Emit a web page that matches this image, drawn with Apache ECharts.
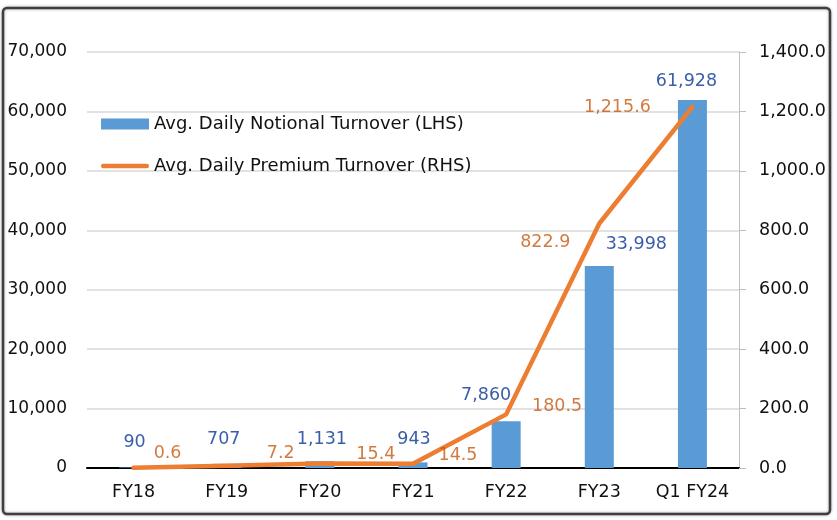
<!DOCTYPE html>
<html>
<head>
<meta charset="utf-8">
<script src="https://cdn.jsdelivr.net/npm/echarts@6/dist/echarts.min.js"></script>
<style>
  html, body { margin: 0; padding: 0; background: #fff; }
  #main { width: 837px; height: 520px; }
</style>
</head>
<body>
<div id="main"></div>
<script>
var categories = ['FY18', 'FY19', 'FY20', 'FY21', 'FY22', 'FY23', 'Q1 FY24'];
var notionalTurnover = [90, 707, 1131, 943, 7860, 33998, 61928];      // LHS
var premiumTurnover = [0.6, 7.2, 15.4, 14.5, 180.5, 822.9, 1215.6];   // RHS
var leftTicks = { min: 0, max: 70000, interval: 10000 };
var rightTicks = { min: 0, max: 1400, interval: 200 };

// label nudges (pixels), like the hand-placed labels of the original
var barLabelShift = [[1, -16], [-3, -15], [2, -13], [1, -14], [-20, -17], [37, -13], [-6, -10]];
var lineLabelShift = [[34, -14], [54, -12], [56, -9], [45, -8], [51, -8], [-54, 19], [-75, 1]];

var FONT = 'DejaVu Sans';
var chart = echarts.init(document.getElementById('main'));

var fmtInt = function (v) { return Math.round(v).toLocaleString('en-US'); };
var fmtOne = function (v) {
    return v.toLocaleString('en-US', { minimumFractionDigits: 1, maximumFractionDigits: 1 });
};

var barData = notionalTurnover.map(function (v, i) {
    return { value: v, label: { offset: barLabelShift[i] } };
});
var labelData = premiumTurnover.map(function (v, i) {
    return { value: v, label: { offset: lineLabelShift[i] } };
});

var option = {
    animation: false,
    textStyle: { fontFamily: FONT },
    graphic: [{
        type: 'rect',
        shape: { x: 3, y: 8, width: 827, height: 506, r: 4 },
        style: { fill: 'none', stroke: '#3f3f3f', lineWidth: 2.5, shadowBlur: 3, shadowColor: 'rgba(0,0,0,0.35)' },
        z: 100
    }],
    grid: { left: 87, right: 98, top: 52, bottom: 52 },
    legend: {
        orient: 'vertical',
        left: 96,
        top: 110,
        itemWidth: 48,
        itemHeight: 11,
        itemGap: 24,
        textStyle: { fontFamily: FONT, fontSize: 18, color: '#111' },
        data: [
            { name: 'Avg. Daily Notional Turnover (LHS)', icon: 'rect' },
            { name: 'Avg. Daily Premium Turnover (RHS)', icon: 'path://M2,0 L46,0 A2.2,2.2 0 0 1 46,4.4 L2,4.4 A2.2,2.2 0 0 1 2,0 Z' }
        ]
    },
    xAxis: {
        type: 'category',
        data: categories,
        axisLine: { lineStyle: { color: '#000', width: 2 } },
        axisTick: { show: false },
        axisLabel: { color: '#111', fontSize: 17.5, margin: 15, interval: 0, fontFamily: FONT }
    },
    yAxis: [{
        type: 'value',
        min: leftTicks.min, max: leftTicks.max, interval: leftTicks.interval,
        axisLine: { show: false },
        axisTick: { show: false },
        splitLine: { lineStyle: { color: '#d9d9d9', width: 1.5 } },
        axisLabel: { color: '#111', fontSize: 17, margin: 20, fontFamily: FONT, formatter: fmtInt }
    }, {
        type: 'value',
        min: rightTicks.min, max: rightTicks.max, interval: rightTicks.interval,
        axisLine: { show: true, lineStyle: { color: '#bfbfbf', width: 1 } },
        axisTick: { show: true, length: 7, lineStyle: { color: '#bfbfbf' } },
        splitLine: { show: false },
        axisLabel: { color: '#111', fontSize: 17.5, margin: 20, fontFamily: FONT, formatter: fmtOne }
    }],
    series: [{
        name: 'Avg. Daily Notional Turnover (LHS)',
        type: 'bar',
        yAxisIndex: 0,
        barWidth: 29,
        itemStyle: { color: '#5b9bd5' },
        label: {
            show: true, position: 'top', distance: 0,
            color: '#3a5ea8', fontSize: 17.5, fontFamily: FONT,
            formatter: function (p) { return fmtInt(p.value); }
        },
        data: barData
    }, {
        name: 'Avg. Daily Premium Turnover (RHS)',
        type: 'line',
        yAxisIndex: 1,
        symbol: 'none',
        lineStyle: { color: '#ed7d31', width: 4.5, cap: 'round', join: 'round' },
        itemStyle: { color: '#ed7d31' },
        data: premiumTurnover,
        z: 3
    }, {
        name: 'premium labels',
        type: 'scatter',
        yAxisIndex: 1,
        symbolSize: 1,
        itemStyle: { color: 'transparent' },
        label: {
            show: true, position: 'inside',
            color: '#c55a11', fontSize: 17.5, fontFamily: FONT,
            formatter: function (p) { return fmtOne(p.value); }
        },
        data: labelData,
        z: 4
    }]
};

chart.setOption(option);
</script>
</body>
</html>
